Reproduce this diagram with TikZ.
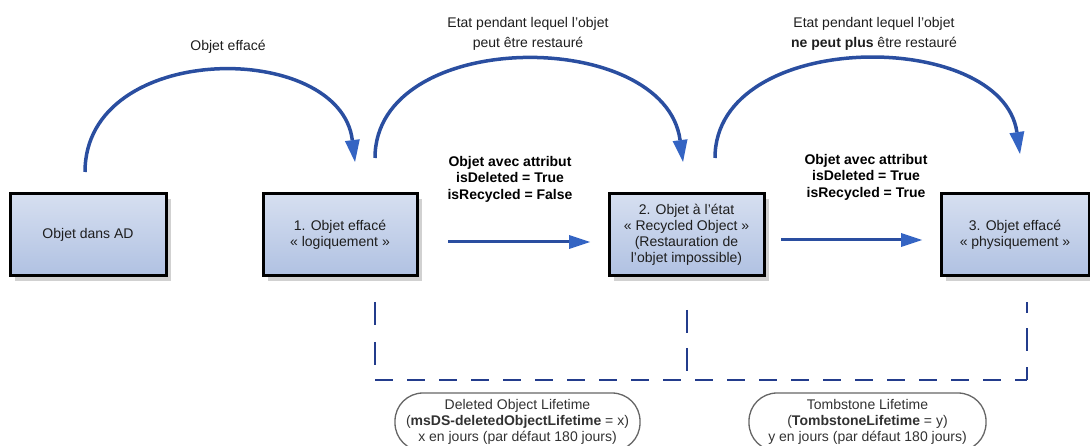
\documentclass[tikz,border=0pt]{standalone}
\usepackage{fontspec}
\setmainfont{Liberation Sans}
\usetikzlibrary{arrows.meta,shadows}
\definecolor{arrowblue}{RGB}{42,78,160}
\definecolor{headblue}{RGB}{52,100,195}
\definecolor{dashblue}{RGB}{35,60,140}
\definecolor{boxtop}{RGB}{214,223,240}
\definecolor{boxbot}{RGB}{176,193,226}
\definecolor{txt}{RGB}{30,30,30}
\definecolor{captxt}{RGB}{50,50,50}
\begin{document}
\begin{tikzpicture}[x=1pt,y=-1pt,
  statebox/.style={draw=black, line width=3pt, top color=boxtop, bottom color=boxbot,
    minimum height=82pt, align=center, inner sep=0pt, text=txt,
    font=\fontsize{14}{16}\selectfont,
    drop shadow={shadow xshift=5pt, shadow yshift=-5pt, fill=black!18, opacity=1}},
  arclbl/.style={align=center, text=txt, font=\fontsize{14}{19.5}\selectfont},
  midlbl/.style={align=center, text=black, font=\fontsize{14}{16.5}\selectfont\bfseries},
  caplbl/.style={draw=black!60, line width=1.3pt, rounded corners=28pt, align=center,
    text=captxt, inner sep=0pt, minimum height=58pt, font=\fontsize{14}{16}\selectfont},
  curvearrow/.style={draw=arrowblue, line width=3.5pt,
    -{Triangle[length=22pt,width=15pt,fill=headblue,line width=0pt]}},
  straightarrow/.style={draw=arrowblue, line width=3pt,
    -{Triangle[length=21pt,width=14pt,fill=headblue,line width=0pt]}},
  dashline/.style={draw=dashblue, line width=2.5pt}
]
\useasboundingbox (0,0) rectangle (1090,446);
\clip (0,0) rectangle (1090,446);

% state boxes
\node[statebox, minimum width=156pt] (b0) at (88,235) {Objet dans AD};
\node[statebox, minimum width=154pt] (b1) at (340,235) {1. Objet effacé\\« logiquement »};
\node[statebox, minimum width=155pt] (b2) at (686.5,235) {2. Objet à l'état\\« Recycled Object »\\(Restauration de\\l'objet impossible)};
\node[statebox, minimum width=148pt] (b3) at (1015,235) {3. Objet effacé\\« physiquement »};

% curved arrows
\coordinate (c1s) at (85,172);  \coordinate (c1e) at (355,162);
\coordinate (c2s) at (375,158); \coordinate (c2e) at (683,162);
\coordinate (c3s) at (715,158); \coordinate (c3e) at (1020,154);
\draw[curvearrow] (c1s) .. controls (85,40) and (340,40) .. (c1e);
\draw[curvearrow] (c2s) .. controls (375,27) and (665,27) .. (c2e);
\draw[curvearrow] (c3s) .. controls (715,28) and (1002,28) .. (c3e);

% arc labels
\node[arclbl] (t1) at (228,47) {Objet effacé};
\node[arclbl] (t2) at (528,34) {Etat pendant lequel l'objet\\peut être restauré};
\node[arclbl] (t3) at (874,34) {Etat pendant lequel l'objet\\\textbf{ne peut plus} être restauré};

% straight arrows
\coordinate (h1s) at (448,242); \coordinate (h1e) at (590,242);
\coordinate (h2s) at (781,240); \coordinate (h2e) at (922,240);
\draw[straightarrow] (h1s) -- (h1e);
\draw[straightarrow] (h2s) -- (h2e);

% attribute labels
\node[midlbl] (m1) at (510,179) {Objet avec attribut\\isDeleted = True\\isRecycled = False};
\node[midlbl] (m2) at (866,177) {Objet avec attribut\\isDeleted = True\\isRecycled = True};

% dashed lifetime brackets
\coordinate (d1) at (375,302); \coordinate (d1b) at (375,380);
\coordinate (d2) at (687,310); \coordinate (d2b) at (687,380);
\coordinate (d3) at (1027,302); \coordinate (d3b) at (1027,380);
\draw[dashline, dash pattern=on 23pt off 17pt] (d1) -- (d1b);
\draw[dashline, dash pattern=on 23pt off 15pt] (d2) -- (d2b);
\draw[dashline, dash pattern=on 13pt off 16pt on 23pt off 15pt] (d3b) -- (d3);
\draw[dashline, dash pattern=on 18pt off 14pt] (d1b) -- (d3b);

% lifetime capsules
\node[caplbl, minimum width=245pt] (l1) at (517.5,422)
  {Deleted Object Lifetime\\(\textbf{msDS-deletedObjectLifetime} = x)\\x en jours (par défaut 180 jours)};
\node[caplbl, minimum width=237pt] (l2) at (867.5,422)
  {Tombstone Lifetime\\(\textbf{TombstoneLifetime} = y)\\y en jours (par défaut 180 jours)};
\end{tikzpicture}
\end{document}
